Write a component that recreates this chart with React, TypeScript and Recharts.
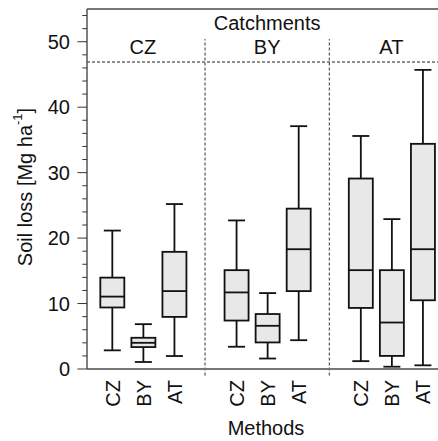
import React from 'react';
import { ComposedChart, Bar, XAxis, YAxis, ReferenceLine, ReferenceDot } from 'recharts';

const methodLabels = ['CZ', 'BY', 'AT'];
const catchmentLabels = ['CZ', 'BY', 'AT'];
const positions = [1, 2, 3, 5, 6, 7, 9, 10, 11];
const groupCenters = [2, 6, 10];
const dividers = [4, 8];
const whiskerLow = [2.85, 1.07, 1.98, 3.4, 1.6, 4.4, 1.2, 0.35, 0.56];
const q1 = [9.4, 3.35, 7.96, 7.4, 4.06, 11.9, 9.33, 2.0, 10.5];
const median = [11.06, 4.0, 11.9, 11.7, 6.6, 18.3, 15.1, 7.1, 18.3];
const q3 = [13.96, 4.77, 17.9, 15.1, 8.4, 24.5, 29.1, 15.1, 34.4];
const whiskerHigh = [21.15, 6.85, 25.2, 22.7, 11.6, 37.1, 35.6, 22.9, 45.7];
const yAllTicks = [0, 2, 4, 6, 8, 10, 12, 14, 16, 18, 20, 22, 24, 26, 28, 30, 32, 34, 36, 38, 40, 42, 44, 46, 48, 50, 52, 54];

const data = positions.map((p, i) => ({
  pos: p,
  method: methodLabels[i % 3],
  range: [whiskerLow[i], whiskerHigh[i]],
  low: whiskerLow[i],
  q1: q1[i],
  med: median[i],
  q3: q3[i],
  high: whiskerHigh[i],
}));

const FONT = '"Liberation Sans", Arial, sans-serif';
const FS = 20;
const INK = '#111';

const BoxShape = (props: any) => {
  const { x, y, width, height, payload } = props;
  const top = Math.min(y, y + height);
  const bottom = Math.max(y, y + height);
  const lo = payload.low;
  const hi = payload.high;
  const py = (v: number) => bottom - ((v - lo) / (hi - lo)) * (bottom - top);
  const cx = x + width / 2;
  const cap = 8.5;
  const sw = 1.8;
  return (
    <g>
      <line x1={cx} x2={cx} y1={py(hi)} y2={py(payload.q3)} stroke={INK} strokeWidth={sw} />
      <line x1={cx} x2={cx} y1={py(payload.q1)} y2={py(lo)} stroke={INK} strokeWidth={sw} />
      <line x1={cx - cap} x2={cx + cap} y1={py(hi)} y2={py(hi)} stroke={INK} strokeWidth={sw} />
      <line x1={cx - cap} x2={cx + cap} y1={py(lo)} y2={py(lo)} stroke={INK} strokeWidth={sw} />
      <rect x={x} y={py(payload.q3)} width={width} height={py(payload.q1) - py(payload.q3)} fill="#e8e8e8" stroke={INK} strokeWidth={sw} />
      <line x1={x} x2={x + width} y1={py(payload.med)} y2={py(payload.med)} stroke={INK} strokeWidth={sw} />
    </g>
  );
};

const YTick = (props: any) => {
  const { x, y, payload } = props;
  const axisX = x + 17;
  const major = payload.value % 10 === 0;
  const len = major ? 9.5 : 4.7;
  return (
    <g>
      <line x1={axisX - len} x2={axisX} y1={y} y2={y} stroke="#333" strokeWidth={1} />
      {major && payload.value <= 50 ? (
        <text x={x} y={y} textAnchor="end" dominantBaseline="central" fontFamily={FONT} fontSize={FS} fill={INK}>
          {payload.value}
        </text>
      ) : null}
    </g>
  );
};

const XTick = (props: any) => {
  const { x, y, index } = props;
  const label = methodLabels[index % 3];
  const ty = y + 3;
  const tx = x + 1;
  return (
    <text
      x={tx}
      y={ty}
      transform={`rotate(-90, ${tx}, ${ty})`}
      textAnchor="end"
      dominantBaseline="central"
      fontFamily={FONT}
      fontSize={FS}
      fill={INK}
    >
      {label}
    </text>
  );
};

const YLabel = (props: any) => {
  const { viewBox } = props;
  const cx = 25;
  const cy = viewBox.y + viewBox.height / 2 - 2;
  return (
    <text
      x={cx}
      y={cy}
      transform={`rotate(-90, ${cx}, ${cy})`}
      textAnchor="middle"
      dominantBaseline="central"
      fontFamily={FONT}
      fontSize={FS}
      fill={INK}
    >
      Soil loss [Mg ha
      <tspan baselineShift="super" fontSize={13}>-1</tspan>
      ]
    </text>
  );
};

const XLabel = (props: any) => {
  const { viewBox } = props;
  const cx = 266;
  const cy = 427.5;
  return (
    <text x={cx} y={cy} textAnchor="middle" dominantBaseline="central" fontFamily={FONT} fontSize={FS} fill={INK}>
      Methods
    </text>
  );
};

export default function App() {
  return (
    <div style={{ width: 438, height: 441, overflow: 'hidden' }}>
      <style>{'html,body{margin:0;padding:0;overflow:hidden;}'}</style>
      <ComposedChart
        width={438}
        height={441}
        data={data}
        margin={{ top: 9, right: 0, bottom: 22, left: 0 }}
        style={{ fontFamily: FONT }}
      >
        <XAxis
          dataKey="pos"
          type="number"
          domain={[0.2, 11.5]}
          ticks={positions}
          interval={0}
          tick={<XTick />}
          tickLine={false}
          axisLine={{ stroke: '#777', strokeWidth: 2 }}
          height={50}
          label={<XLabel />}
        />
        <YAxis
          type="number"
          domain={[0, 55]}
          ticks={yAllTicks}
          interval={0}
          width={87}
          tickSize={9}
          tickMargin={8}
          tickLine={false}
          tick={<YTick />}
          axisLine={{ stroke: '#555', strokeWidth: 1.5 }}
          allowDataOverflow
          label={<YLabel />}
        />
        <ReferenceLine y={55} stroke="#777" strokeWidth={2} ifOverflow="visible" />
        <ReferenceLine y={46.9} stroke="#222" strokeWidth={1} strokeDasharray="3 2" />
        {dividers.map((d) => (
          <ReferenceLine
            key={d}
            segment={[{ x: d, y: -1 }, { x: d, y: 50.4 }]}
            stroke="#333"
            strokeWidth={1}
            strokeDasharray="3 2"
            ifOverflow="visible"
          />
        ))}
        <ReferenceDot
          x={6}
          y={52.9}
          r={0}
          fill="none"
          stroke="none"
          label={{ value: 'Catchments', position: 'center', fontSize: FS, fill: INK, fontFamily: FONT }}
        />
        {groupCenters.map((c, i) => (
          <ReferenceDot
            key={c}
            x={c}
            y={49.2}
            r={0}
            fill="none"
            stroke="none"
            label={{ value: catchmentLabels[i], position: 'center', fontSize: FS, fill: INK, fontFamily: FONT }}
          />
        ))}
        <Bar dataKey="range" barSize={24} shape={<BoxShape />} isAnimationActive={false} />
      </ComposedChart>
    </div>
  );
}
